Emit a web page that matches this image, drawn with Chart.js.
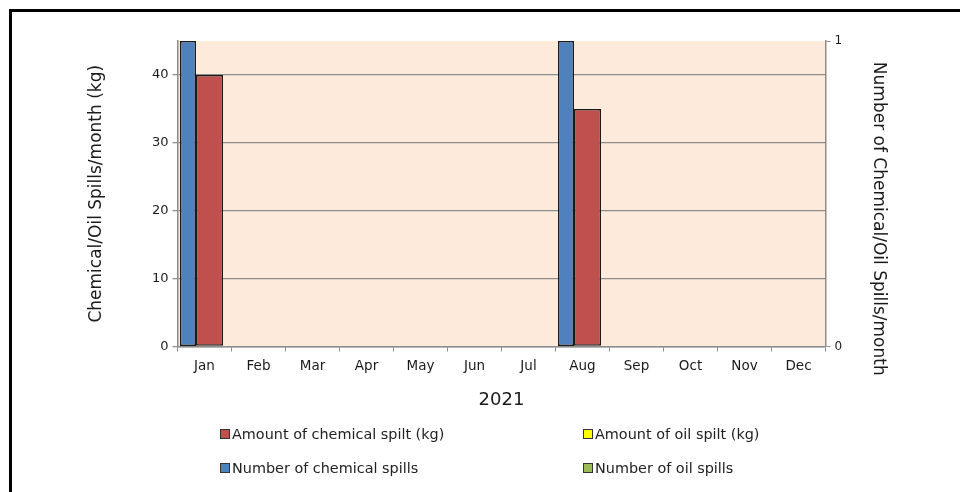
<!DOCTYPE html>
<html>
<head>
<meta charset="utf-8">
<script src="https://cdn.jsdelivr.net/npm/chart.js@4"></script>
<style>
    html, body { margin: 0; padding: 0; background: #fff; }
    #wrap { position: relative; width: 960px; height: 492px; overflow: hidden; }
    #frame {
        position: absolute; left: 9px; top: 9px; width: 1000px; height: 600px;
        border-left: 3px solid #000; border-top: 3px solid #000;
    }
    #spills { position: absolute; left: 0; top: 0; }
    #legend {
        position: absolute; left: 220px; top: 424px;
        display: grid; grid-template-columns: 363px 220px; row-gap: 14px;
        font-family: "DejaVu Sans", sans-serif; font-size: 14.4px; color: #222;
    }
    #legend .item { display: flex; align-items: center; height: 20px; white-space: nowrap; }
    #legend .box { flex: none; width: 8px; height: 8px; border: 1px solid #333; margin-right: 2px; }
</style>
</head>
<body>
<div id="wrap">
    <div id="frame"></div>
    <canvas id="spills" width="960" height="492"></canvas>
    <div id="legend"></div>
</div>
<script>
// Données 2021
const months = ['Jan', 'Feb', 'Mar', 'Apr', 'May', 'Jun', 'Jul', 'Aug', 'Sep', 'Oct', 'Nov', 'Dec'];
const chemicalKg = [40, 0, 0, 0, 0, 0, 0, 35, 0, 0, 0, 0];
const oilKg = [0, 0, 0, 0, 0, 0, 0, 0, 0, 0, 0, 0];
const chemicalCount = [1, 0, 0, 0, 0, 0, 0, 1, 0, 0, 0, 0];
const oilCount = [0, 0, 0, 0, 0, 0, 0, 0, 0, 0, 0, 0];

const font = 'DejaVu Sans';
const txt = '#1a1a1a';
const axisGrey = '#8c8c8c';
const rightTitle = 'Number of Chemical/Oil Spills/month';

// Fond saumon de la zone de tracé
const plotBackground = {
    id: 'plotBackground',
    beforeDraw(chart) {
        const a = chart.chartArea;
        const ctx = chart.ctx;
        ctx.save();
        ctx.fillStyle = '#FDEADA';
        ctx.fillRect(a.left, a.top, a.right - a.left, a.bottom - a.top);
        ctx.restore();
    }
};

// Titre de l'axe de droite, un peu plus bas que le centre de l'axe
const rightAxisTitle = {
    id: 'rightAxisTitle',
    afterDraw(chart) {
        const s = chart.scales.y2;
        const ctx = chart.ctx;
        ctx.save();
        ctx.translate(s.right - 14, (s.top + s.bottom) / 2 + 25);
        ctx.rotate(Math.PI / 2);
        ctx.font = '17px "' + font + '"';
        ctx.fillStyle = txt;
        ctx.textAlign = 'center';
        ctx.textBaseline = 'middle';
        ctx.fillText(rightTitle, 0, 0);
        ctx.restore();
    }
};

const chart = new Chart(document.getElementById('spills'), {
    type: 'bar',
    data: {
        labels: months,
        datasets: [{
            label: 'Amount of chemical spilt (kg)',
            data: chemicalKg,
            yAxisID: 'y',
            backgroundColor: '#C0504D',
            order: 1,
            categoryPercentage: 0.371,
            barPercentage: 2.7
        }, {
            label: 'Amount of oil spilt (kg)',
            data: oilKg,
            yAxisID: 'y',
            backgroundColor: '#FFFF00',
            order: 2,
            grouped: false
        }, {
            label: 'Number of chemical spills',
            data: chemicalCount,
            yAxisID: 'y2',
            backgroundColor: '#4F81BD',
            order: 0,
            categoryPercentage: 1.223,
            barPercentage: 0.485
        }, {
            label: 'Number of oil spills',
            data: oilCount,
            yAxisID: 'y2',
            backgroundColor: '#9BBB59',
            order: 3,
            grouped: false
        }]
    },
    options: {
        responsive: false,
        animation: false,
        devicePixelRatio: 1,
        layout: { padding: { left: 82, right: 68, top: 41, bottom: 77 } },
        datasets: {
            bar: {
                borderColor: '#1a1a1a',
                borderWidth: 1.5,
                borderSkipped: false,
                inflateAmount: 0
            }
        },
        plugins: {
            legend: { display: false },
            tooltip: { enabled: false }
        },
        scales: {
            x: {
                grid: { offset: true, drawOnChartArea: false, color: axisGrey, tickLength: 5 },
                border: { color: axisGrey, width: 1.5 },
                ticks: { color: txt, font: { family: font, size: 13.5 }, padding: 7, maxRotation: 0 },
                title: { display: true, text: '2021', color: txt, font: { family: font, size: 18 }, padding: 4 },
                afterFit(scale) { scale.height = 68.5; }
            },
            y: {
                position: 'left',
                min: 0,
                max: 45,
                ticks: { stepSize: 10, color: txt, font: { family: font, size: 13 }, padding: 4 },
                afterBuildTicks(scale) {
                    scale.ticks = scale.ticks.filter(t => t.value % 10 === 0);
                },
                grid: { color: axisGrey, lineWidth: 1.3, tickLength: 5 },
                border: { color: axisGrey, width: 1.5 },
                title: { display: true, text: 'Chemical/Oil Spills/month (kg)', color: txt, font: { family: font, size: 17 }, padding: 4 },
                afterFit(scale) { scale.width = 95.5; }
            },
            y2: {
                position: 'right',
                min: 0,
                max: 1,
                ticks: { stepSize: 1, color: txt, font: { family: font, size: 12 }, padding: 4 },
                grid: { drawOnChartArea: false, color: axisGrey, tickLength: 5 },
                border: { color: axisGrey, width: 1.5 },
                afterFit(scale) { scale.width = 66.5; }
            }
        }
    },
    plugins: [plotBackground, rightAxisTitle]
});

// Légende HTML sur deux colonnes, dans l'ordre des séries
const legendEl = document.getElementById('legend');
chart.options.plugins.legend.labels.generateLabels(chart)
    .sort((a, b) => a.datasetIndex - b.datasetIndex)
    .forEach(function(item) {
        const div = document.createElement('div');
        div.className = 'item';
        const box = document.createElement('span');
        box.className = 'box';
        box.style.background = item.fillStyle;
        div.appendChild(box);
        div.appendChild(document.createTextNode(item.text));
        legendEl.appendChild(div);
    });
</script>
</body>
</html>
